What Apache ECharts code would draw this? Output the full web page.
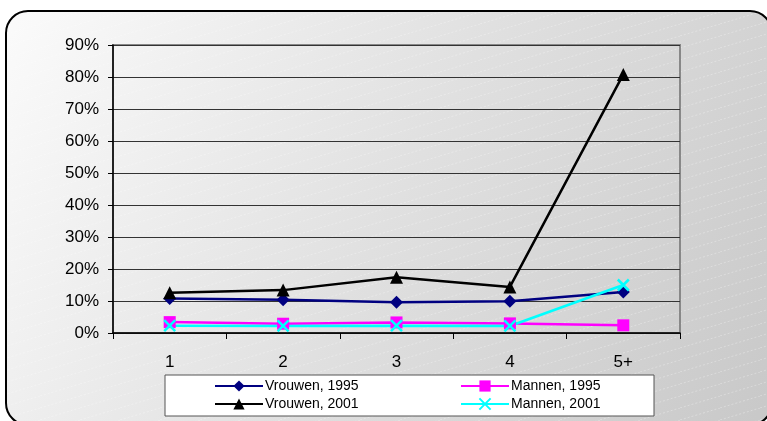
<!DOCTYPE html>
<html><head><meta charset="utf-8">
<script src="https://cdn.jsdelivr.net/npm/echarts@6/dist/echarts.min.js"></script>
<style>html,body{margin:0;padding:0;background:#fff}#c{width:767px;height:421px}</style>
</head><body><div id="c"></div>
<script>
const categories = ['1', '2', '3', '4', '5+'];
const vrouwen1995 = [10.8, 10.4, 9.6, 9.9, 12.8];
const mannen1995 = [3.4, 2.9, 3.3, 3.0, 2.4];
const vrouwen2001 = [12.6, 13.4, 17.4, 14.4, 80.8];
const mannen2001 = [2.3, 2.2, 2.3, 2.2, 15.0];
const yTicks = [0, 10, 20, 30, 40, 50, 60, 70, 80, 90];

const font = '"Liberation Sans", Arial, sans-serif';
const chart = echarts.init(document.getElementById('c'));
const xPath = 'path://M0,0L10,10M10,0L0,10';

// faint diagonal stripe texture
const tile = document.createElement('canvas');
tile.width = 40; tile.height = 12;
const tc = tile.getContext('2d');
tc.strokeStyle = 'rgba(255,255,255,0.3)';
tc.lineWidth = 1;
tc.setLineDash([2, 2]);
tc.beginPath(); tc.moveTo(0, 12); tc.lineTo(40, 0); tc.stroke();

function mk(name, data, color, symbol, size, extra) {
  return Object.assign({
    name, type: 'line', data, symbol, symbolSize: size, showSymbol: true,
    lineStyle: { color, width: 2.5 },
    itemStyle: { color },
    emphasis: { disabled: true },
    animation: false
  }, extra || {});
}
function lg(name, left, top) {
  return {
    data: [name], left, top, itemWidth: 48, itemHeight: 14, z: 10,
    textStyle: { fontSize: 14, fontFamily: font, color: '#000', padding: [0, 0, 0, -3] }
  };
}
chart.setOption({
  animation: false,
  graphic: [{
    type: 'rect', z: -10, silent: true,
    shape: { x: 6, y: 11, width: 766, height: 414, r: 22 },
    style: {
      fill: new echarts.graphic.LinearGradient(0, 0, 1, 1, [
        { offset: 0, color: '#fbfbfb' },
        { offset: 0.5, color: '#e0e0e0' },
        { offset: 1, color: '#c8c8c8' }
      ]),
      stroke: '#000', lineWidth: 2
    }
  }, {
    type: 'rect', z: -9, silent: true,
    shape: { x: 7, y: 12, width: 764, height: 412, r: 21 },
    style: { fill: { image: tile, repeat: 'repeat' } }
  }, {
    type: 'rect', z: 5, silent: true,
    shape: { x: 165, y: 375, width: 489, height: 41 },
    style: { fill: '#fff', stroke: '#555', lineWidth: 1 }
  }],
  grid: { left: 113, right: 87, top: 45, bottom: 88, show: true, borderColor: '#888', borderWidth: 2, backgroundColor: 'transparent' },
  xAxis: {
    type: 'category', data: categories, boundaryGap: true,
    axisLine: { lineStyle: { color: '#000', width: 1.5 } },
    axisTick: { show: true, length: 6, lineStyle: { color: '#000' }, alignWithLabel: false },
    axisLabel: { color: '#000', fontSize: 17, fontFamily: font, margin: 21 }
  },
  yAxis: {
    type: 'value', min: 0, max: 90, interval: 10,
    axisLine: { show: true, lineStyle: { color: '#000', width: 1.5 } },
    axisTick: { show: true, length: 5, lineStyle: { color: '#000' } },
    axisLabel: { color: '#000', fontSize: 17, fontFamily: font, margin: 14, formatter: v => yTicks.includes(v) ? v + '%' : '' },
    splitLine: { lineStyle: { color: '#333', width: 1.2 } }
  },
  legend: [
    lg('Vrouwen, 1995', 209, 374),
    lg('Mannen, 1995', 455, 374),
    lg('Vrouwen, 2001', 209, 392),
    lg('Mannen, 2001', 455, 392)
  ],
  series: [
    mk('Vrouwen, 1995', vrouwen1995, '#000080', 'diamond', 13),
    mk('Mannen, 1995', mannen1995, '#ff00ff', 'rect', 12),
    mk('Vrouwen, 2001', vrouwen2001, '#000000', 'triangle', 13),
    mk('Mannen, 2001', mannen2001, '#00ffff', xPath, 11, {
      itemStyle: { color: '#00ffff', borderColor: '#00ffff', borderWidth: 2.5 }
    })
  ]
});
</script></body></html>
